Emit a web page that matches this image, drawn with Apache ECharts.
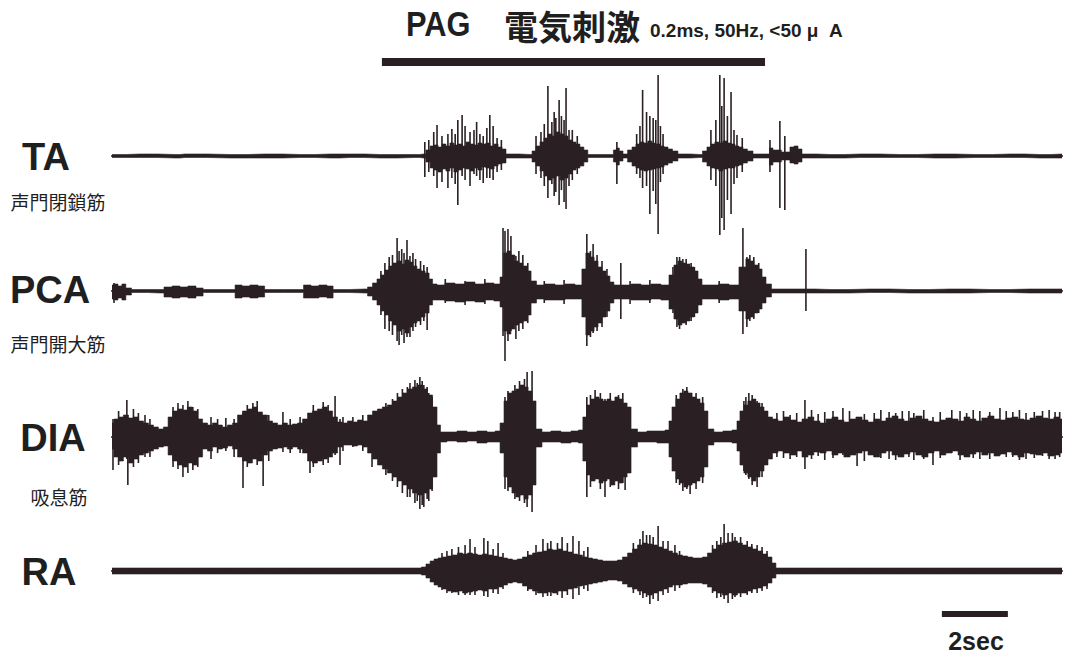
<!DOCTYPE html>
<html>
<head>
<meta charset="utf-8">
<script src="https://cdn.jsdelivr.net/npm/echarts@6/dist/echarts.min.js"></script>
<style>
  html, body { margin: 0; padding: 0; background: #ffffff; }
  #chart { width: 1070px; height: 658px; }
</style>
</head>
<body>
<div id="chart"></div>
<script>
// EMG recordings during PAG stimulation.
// Envelopes: [time (s), upper amplitude, lower amplitude]
// Spikes:    [time (s), peak up, peak down]

const traceNames  = ['TA', 'PCA', 'DIA', 'RA'];
const muscleNames = ['声門閉鎖筋', '声門開大筋', '吸息筋', ''];

const stimWindow = [8.18, 19.79];          // seconds, stimulation on/off
const stimParams = '0.2ms, 50Hz, <50 μ  A';
const scaleBarStart  = 25.15;              // seconds
const scaleBarLength = 2;                  // seconds
const scaleBarLabel  = '2sec';

const taEnvelope = [
  [0.00,1.5,-1.5],[0.85,2,-1.5],[1.91,1.5,-2],[2.21,2,-1.5],[3.58,1.5,-2],[4.64,2,-2],[5.70,1.5,-1.5],[6.61,2,-2],[7.21,2,-1.5],[8.12,1.5,-2],
  [9.18,1.5,-1.5],[9.45,2,-2],
  [9.58,6,-6],[9.70,10,-12],[9.82,11,-14],[9.94,9,-16],[10.06,12,-13],[10.18,10,-15],[10.30,13,-12],[10.42,11,-16],[10.55,12,-14],[10.67,10,-12],
  [10.79,14,-13],[10.91,12,-15],[11.03,11,-12],[11.15,13,-14],[11.27,12,-11],[11.39,13,-12],[11.52,10,-13],[11.64,12,-10],[11.76,9,-8],[11.88,7,-7],
  [12.00,2,-2],[12.67,1.5,-2],
  [12.79,5,-6],[12.91,10,-10],[13.03,14,-15],[13.15,18,-20],[13.27,22,-24],[13.39,20,-22],[13.52,24,-20],[13.64,22,-24],[13.76,20,-22],[13.88,16,-18],
  [14.00,14,-14],[14.12,12,-12],[14.24,9,-10],[14.36,6,-6],[14.48,1.5,-1.5],[15.15,1.5,-1.5],
  [15.24,6,-6],[15.33,8,-9],[15.42,5,-5],[15.55,2,-2],
  [15.70,6,-6],[15.82,9,-10],[15.94,12,-12],[16.06,14,-14],[16.18,13,-15],[16.30,15,-14],[16.42,13,-13],[16.55,12,-12],[16.67,10,-11],[16.79,9,-9],
  [16.91,7,-7],[17.06,5,-5],[17.24,2,-2],[17.82,1.5,-1.5],
  [17.97,5,-6],[18.09,9,-10],[18.21,12,-12],[18.33,14,-13],[18.45,13,-15],[18.58,15,-13],[18.70,13,-12],[18.82,12,-12],[18.94,10,-10],[19.06,9,-9],
  [19.18,7,-7],[19.33,5,-5],[19.52,2,-2],[19.88,2,-2],[19.97,8,-9],[20.09,6,-6],[20.48,4,-4],[20.61,9,-7],[20.73,10,-8],[20.85,7,-6],[20.97,2,-2],
  [21.76,1.5,-2],[22.67,2,-1.5],[23.88,1.5,-1.5],[24.94,2,-2],[26.15,1.5,-1.5],[27.21,2,-1.5],[28.12,1.5,-2],[28.79,2,-2]
];
const taSpikes = [
  [9.48,14,-21],[9.60,16,-16],[9.75,24,-20],[9.85,31,-32],[10.00,20,-26],[10.18,22,-32],[10.30,27,-22],[10.40,22,-28],[10.48,36,-49],[10.61,41,-20],
  [10.70,30,-24],[10.85,24,-30],[10.97,26,-18],[11.05,34,-20],[11.15,22,-24],[11.25,20,-27],[11.36,28,-22],[11.45,41,-22],[11.55,30,-24],[11.67,18,-16],
  [11.80,16,-14],
  [12.85,20,-18],[13.00,24,-22],[13.10,32,-30],[13.21,70,-42],[13.33,34,-28],[13.40,44,-40],[13.45,38,-36],[13.55,56,-49],[13.62,40,-34],[13.70,36,-46],
  [13.76,68,-53],[13.85,26,-30],[13.95,26,-24],[14.10,20,-18],
  [15.30,14,-28],
  [15.90,22,-18],[16.00,30,-22],[16.08,66,-32],[16.20,44,-30],[16.30,40,-58],[16.40,38,-35],[16.48,36,-48],[16.55,81,-78],[16.62,30,-26],[16.70,22,-18],
  [18.15,26,-24],[18.30,36,-30],[18.42,81,-79],[18.48,50,-62],[18.55,78,-74],[18.65,40,-44],[18.76,64,-58],[18.85,26,-28],[18.94,21,-22],[19.10,18,-16],
  [19.94,16,-16],[20.24,35,-52],[20.39,20,-54]
];

const pcaEnvelope = [
  [0.00,6,-8],[0.12,7,-9],[0.24,5,-7],[0.36,7,-9],[0.48,3,-4],[0.70,1.5,-1.5],[1.45,1.5,-2],[1.70,4,-6],[1.94,5,-7],[2.18,4,-6],[2.42,5,-7],
  [2.67,3,-5],[2.85,1.5,-1.5],[3.64,1.5,-1.5],[3.82,6,-7],[4.06,5,-6],[4.30,6,-7],[4.55,5,-6],[4.70,1.5,-1.5],[5.70,1.5,-1.5],[5.91,6,-7],
  [6.15,5,-7],[6.39,6,-6],[6.64,5,-7],[6.76,1.5,-1.5],[7.67,2,-2],
  [7.82,4,-5],[7.97,8,-9],[8.09,12,-14],[8.21,16,-20],[8.33,21,-24],[8.45,25,-30],[8.58,28,-34],[8.70,30,-40],[8.82,27,-38],[8.94,31,-42],[9.06,29,-36],
  [9.18,25,-32],[9.30,22,-30],[9.42,20,-26],[9.55,18,-22],[9.67,12,-14],[9.76,7,-9],
  [9.94,6,-9],[10.24,8,-10],[10.55,7,-11],[10.85,9,-10],[11.15,7,-11],[11.45,8,-9],[11.70,7,-10],
  [11.82,14,-16],[11.91,38,-40],[12.03,40,-43],[12.15,36,-38],[12.27,30,-34],[12.39,28,-32],[12.52,25,-30],[12.64,20,-24],[12.76,10,-12],
  [12.97,6,-8],[13.27,7,-9],[13.58,6,-9],[13.88,7,-8],[14.18,6,-8],
  [14.30,22,-26],[14.42,38,-44],[14.55,34,-40],[14.67,30,-36],[14.79,24,-32],[14.91,20,-26],[15.03,15,-20],[15.15,9,-12],[15.27,6,-8],
  [15.58,6,-8],[15.88,7,-9],[16.18,6,-9],[16.48,7,-8],[16.79,6,-9],
  [16.97,16,-18],[17.09,26,-28],[17.21,30,-34],[17.33,28,-32],[17.45,27,-30],[17.58,24,-26],[17.70,20,-22],[17.82,12,-14],[17.94,6,-8],
  [18.24,6,-8],[18.55,7,-9],[18.85,6,-8],
  [19.15,24,-20],[19.27,32,-28],[19.39,30,-26],[19.52,26,-22],[19.64,22,-18],[19.76,14,-12],[19.88,7,-6],[20.09,2,-2],
  [20.85,2,-2],[21.76,1.5,-2],[22.97,2,-1.5],[24.18,1.5,-2],[25.39,2,-2],[26.61,1.5,-1.5],[27.82,2,-2],[28.79,2,-2]
];
const pcaSpikes = [
  [0.06,8,-12],
  [8.15,20,-24],[8.27,28,-38],[8.40,34,-40],[8.50,36,-44],[8.64,53,-50],[8.70,40,-54],[8.78,42,-44],[8.85,38,-52],[8.94,51,-46],[9.03,35,-46],
  [9.12,38,-40],[9.20,32,-36],[9.35,30,-34],[9.45,26,-30],[9.55,24,-39],
  [10.10,12,-12],[10.70,10,-14],[11.30,12,-13],
  [11.85,63,-45],[11.91,60,-70],[12.00,62,-50],[12.09,55,-40],[12.24,35,-48],[12.33,40,-40],[12.45,36,-38],[12.60,28,-32],
  [13.10,10,-12],[13.70,11,-13],
  [14.39,57,-55],[14.50,40,-46],[14.58,47,-42],[14.70,36,-40],[14.85,30,-36],[15.00,22,-26],[15.42,28,-28],
  [15.70,10,-13],[16.30,11,-12],
  [17.00,24,-22],[17.12,34,-36],[17.20,34,-38],[17.30,32,-32],[17.40,32,-34],[17.55,28,-30],[17.65,24,-26],
  [18.40,10,-12],
  [19.12,63,-43],[19.24,34,-36],[19.33,36,-30],[19.45,34,-28],[19.60,28,-22],[21.03,42,-20]
];

const diaEnvelope = [
  [0.00,14,-12],[0.12,18,-20],[0.27,20,-24],[0.42,22,-20],[0.58,19,-26],[0.73,20,-22],[0.88,16,-18],[1.03,14,-16],[1.18,12,-14],[1.33,10,-12],
  [1.48,8,-10],[1.64,10,-9],[1.76,20,-18],[1.91,26,-24],[2.06,28,-28],[2.21,27,-30],[2.36,30,-26],[2.52,26,-28],[2.67,18,-20],[2.82,14,-12],
  [2.97,12,-14],[3.12,14,-10],[3.27,12,-12],[3.42,10,-11],[3.58,12,-9],[3.73,14,-12],[3.88,22,-20],[4.03,26,-24],[4.18,28,-26],[4.33,30,-22],
  [4.48,25,-24],[4.64,22,-18],[4.79,16,-14],[4.94,14,-12],[5.09,12,-11],[5.24,14,-10],[5.39,12,-12],[5.55,13,-10],[5.70,14,-12],[5.85,18,-16],
  [6.00,24,-24],[6.15,26,-26],[6.30,28,-24],[6.45,30,-22],[6.61,26,-20],[6.76,20,-16],[6.91,15,-10],[7.06,14,-8],[7.21,16,-8],[7.36,15,-9],
  [7.52,17,-8],[7.67,16,-10],[7.82,22,-16],
  [7.97,26,-22],[8.12,28,-28],[8.27,30,-32],[8.42,32,-36],[8.58,36,-40],[8.73,40,-44],[8.88,44,-48],[9.03,48,-52],[9.18,50,-56],[9.33,52,-58],
  [9.48,48,-56],[9.64,42,-52],[9.79,30,-40],[9.91,12,-16],[10.00,5,-5],
  [10.30,5,-4],[10.61,6,-5],[10.91,5,-4],[11.21,6,-6],[11.52,5,-5],[11.70,6,-5],
  [11.82,14,-16],[11.94,36,-40],[12.06,44,-50],[12.18,46,-56],[12.30,48,-60],[12.42,52,-58],[12.55,50,-62],[12.67,46,-58],[12.79,36,-48],[12.91,8,-10],
  [13.15,5,-5],[13.45,6,-5],[13.76,5,-6],[14.06,6,-5],[14.21,7,-6],
  [14.33,20,-24],[14.45,32,-38],[14.58,38,-44],[14.70,40,-42],[14.82,38,-46],[14.94,36,-44],[15.06,38,-42],[15.18,36,-48],[15.30,40,-44],[15.42,38,-46],
  [15.55,34,-40],[15.67,30,-36],[15.79,8,-10],
  [16.06,5,-5],[16.36,6,-5],[16.67,6,-6],[16.85,7,-6],
  [16.91,16,-20],[17.03,30,-34],[17.15,38,-42],[17.27,44,-46],[17.39,46,-50],[17.52,44,-48],[17.64,40,-46],[17.76,38,-44],[17.88,34,-40],[18.00,26,-30],
  [18.12,8,-8],
  [18.36,5,-5],[18.67,6,-5],[18.91,7,-6],
  [18.97,16,-14],[19.09,26,-28],[19.21,32,-36],[19.33,36,-40],[19.45,38,-44],[19.58,34,-40],[19.70,30,-34],[19.82,26,-28],[19.94,20,-22],
  [20.09,18,-16],[20.27,16,-14],[20.45,20,-16],[20.64,17,-18],[20.82,15,-14],[21.00,18,-20],[21.18,20,-18],[21.36,16,-15],[21.55,14,-16],[21.73,18,-14],
  [21.91,20,-18],[22.09,17,-16],[22.27,15,-20],[22.45,18,-18],[22.64,20,-16],[22.82,17,-14],[23.00,15,-18],[23.18,18,-20],[23.36,16,-16],[23.55,19,-14],
  [23.73,21,-18],[23.91,18,-20],[24.09,16,-17],[24.27,19,-15],[24.45,21,-18],[24.64,18,-20],[24.82,16,-16],[25.00,15,-14],[25.18,17,-18],[25.36,19,-16],
  [25.55,18,-14],[25.73,16,-18],[25.91,20,-20],[26.09,18,-17],[26.27,16,-15],[26.45,19,-18],[26.64,21,-16],[26.82,18,-19],[27.00,17,-17],[27.18,19,-15],
  [27.36,20,-18],[27.55,18,-20],[27.73,17,-16],[27.91,19,-17],[28.09,21,-18],[28.27,19,-16],[28.45,18,-19],[28.64,20,-18],[28.79,18,-16]
];
const diaSpikes = [
  [0.03,18,-33],[0.20,26,-28],[0.45,37,-22],[0.48,20,-48],[0.65,28,-30],[0.80,24,-26],[1.00,22,-20],[1.15,18,-20],[1.85,30,-30],[2.00,34,-32],
  [2.15,32,-40],[2.30,36,-36],[2.45,30,-33],[2.60,28,-30],[3.00,20,-22],[3.20,18,-16],[3.45,19,-14],[3.70,18,-20],[3.97,24,-51],[4.10,32,-30],
  [4.27,34,-20],[4.40,36,-28],[4.58,22,-49],[4.75,22,-24],[5.18,25,-15],[5.40,18,-16],[5.70,20,-16],[6.00,20,-36],[6.10,32,-30],[6.30,27,-24],
  [6.40,35,-28],[6.55,32,-26],[6.76,41,-18],[6.91,18,-28],[7.00,20,-14],[7.30,20,-10],[7.60,22,-14],[7.88,20,-30],[8.18,28,-26],
  [8.30,34,-38],[8.50,38,-44],[8.65,44,-50],[8.80,48,-56],[8.95,50,-60],[9.03,54,-60],[9.18,57,-66],[9.25,54,-64],[9.33,60,-72],[9.40,56,-68],
  [9.45,52,-70],[9.55,50,-62],[9.60,44,-64],[9.70,40,-54],
  [11.91,40,-52],[12.00,46,-54],[12.21,52,-62],[12.35,56,-64],[12.50,58,-66],[12.58,65,-70],[12.73,66,-75],
  [14.39,40,-60],[14.50,42,-50],[14.64,47,-40],[14.80,44,-52],[14.94,38,-60],[15.10,44,-50],[15.35,42,-52],[15.48,44,-46],[15.55,30,-53],
  [17.10,42,-46],[17.20,36,-48],[17.30,48,-54],[17.42,50,-52],[17.52,44,-57],[17.70,44,-52],[17.90,40,-46],
  [19.15,36,-34],[19.21,40,-38],[19.30,44,-42],[19.40,42,-48],[19.55,36,-50],[19.70,34,-40],
  [20.15,24,-20],[20.35,26,-21],[20.55,22,-22],[20.75,24,-20],[21.00,37,-32],[21.20,27,-22],[21.40,23,-19],[21.60,25,-23],[21.85,26,-21],[22.15,29,-18],
  [22.35,26,-20],[22.58,20,-29],[22.80,23,-24],[23.10,24,-20],[23.30,27,-21],[23.55,25,-22],[23.75,24,-23],[23.95,26,-20],[24.15,26,-20],[24.30,24,-23],
  [24.60,27,-22],[24.88,20,-28],[25.10,25,-21],[25.45,27,-16],[25.70,26,-23],[25.90,24,-20],[26.10,27,-21],[26.30,26,-22],[26.60,25,-22],[26.91,29,-18],
  [27.10,26,-20],[27.30,25,-20],[27.50,27,-23],[27.70,24,-22],[27.95,25,-21],[28.20,26,-19],[28.40,27,-22],[28.58,25,-22],[28.72,25,-20]
];

const raEnvelope = [
  [0.00,3,-3],[1.00,3,-3],[2.00,3,-3],[3.00,3,-3],[4.00,3,-3],[5.00,3,-3],[6.00,3,-3],[7.00,3,-3],[8.00,3,-3],[9.00,3,-3],[9.30,3,-3],
  [9.45,4,-4],[9.58,7,-7],[9.70,10,-11],[9.82,12,-14],[9.94,13,-16],[10.09,14,-18],[10.24,15,-20],[10.39,16,-21],[10.55,18,-20],[10.70,17,-22],
  [10.85,18,-21],[11.00,17,-20],[11.15,16,-19],[11.30,17,-20],[11.45,16,-18],[11.61,15,-18],[11.76,14,-16],[11.91,13,-14],[12.06,12,-12],[12.21,11,-11],
  [12.36,12,-12],[12.52,14,-15],[12.67,16,-18],[12.82,18,-20],[12.97,19,-22],[13.12,20,-22],[13.27,22,-21],[13.42,21,-22],[13.58,22,-20],[13.73,20,-20],
  [13.88,19,-18],[14.03,17,-17],[14.18,16,-15],[14.33,14,-14],[14.48,13,-13],[14.64,12,-12],[14.79,11,-11],[14.94,10,-10],[15.09,10,-9],[15.24,10,-9],
  [15.39,11,-10],[15.55,14,-13],[15.70,18,-16],[15.85,22,-18],[16.00,26,-20],[16.15,28,-22],[16.30,27,-24],[16.45,26,-22],[16.61,24,-20],[16.76,22,-18],
  [16.91,20,-16],[17.06,18,-14],[17.21,16,-14],[17.36,15,-13],[17.52,14,-12],[17.67,13,-12],[17.82,13,-12],[17.97,14,-13],
  [18.12,18,-16],[18.27,22,-20],[18.42,26,-22],[18.58,28,-24],[18.73,29,-22],[18.88,30,-24],[19.03,28,-22],[19.18,26,-22],[19.33,24,-20],[19.48,22,-18],
  [19.64,20,-17],[19.79,17,-15],[19.94,14,-12],[20.06,8,-7],[20.18,3,-3],
  [21.00,3,-3],[22.00,3,-3],[23.00,3,-3],[24.00,3,-3],[25.00,3,-3],[26.00,3,-3],[27.00,3,-3],[28.00,3,-3],[28.79,3,-3]
];
const raSpikes = [
  [10.00,18,-19],[10.15,20,-22],[10.30,22,-22],[10.50,24,-24],[10.70,26,-24],[10.85,32,-24],[11.00,24,-24],[11.27,33,-25],[11.39,30,-26],[11.55,22,-22],
  [11.70,28,-23],[11.85,18,-18],
  [12.60,20,-20],[12.85,26,-24],[13.06,32,-26],[13.20,28,-25],[13.30,30,-25],[13.50,28,-24],[13.64,34,-27],[13.80,28,-24],[13.97,35,-28],[14.15,30,-24],
  [14.30,20,-18],[14.42,24,-20],
  [15.80,28,-22],[16.00,32,-24],[16.09,40,-27],[16.20,36,-26],[16.30,36,-33],[16.40,34,-28],[16.55,45,-30],[16.70,30,-24],[16.85,30,-22],[17.06,26,-20],
  [17.20,20,-17],
  [18.20,26,-22],[18.33,30,-27],[18.45,34,-26],[18.55,47,-28],[18.67,38,-32],[18.80,38,-28],[18.88,34,-26],[19.05,34,-26],[19.25,30,-24],[19.39,27,-22],
  [19.55,26,-22],[19.70,24,-20],[19.85,20,-18]
];

const envelopes = [taEnvelope, pcaEnvelope, diaEnvelope, raEnvelope];
const spikes    = [taSpikes, pcaSpikes, diaSpikes, raSpikes];

// layout
const INK = '#2a2023';
const TEXT = '#1f1f1f';
const LATIN = '"Liberation Sans", Arial, Helvetica, sans-serif';
const CJK = '"Noto Sans CJK JP", "Noto Sans CJK SC", sans-serif';
const baselines = [156, 291, 437, 571];
const HALF = 100;                 // px above/below each baseline
const plotLeft = 112, plotWidth = 950;
const timeSpan = 28.79;

const chart = echarts.init(document.getElementById('chart'), null, { renderer: 'svg' });

const grids = baselines.map(b => ({
  left: plotLeft, width: plotWidth, top: b - HALF, height: 2 * HALF,
  outerBoundsMode: 'none', containLabel: false
}));
// the x axis line doubles as the zero line of each trace
const xAxes = baselines.map((_, i) => ({
  type: 'value', gridIndex: i, min: 0, max: timeSpan,
  axisLine: { show: true, onZero: true, lineStyle: { color: INK, width: 2 } },
  axisTick: { show: false }, axisLabel: { show: false }, splitLine: { show: false }
}));
const yAxes = baselines.map((_, i) => ({ type: 'value', gridIndex: i, min: -HALF, max: HALF, show: false }));

function spikeItem(params, api) {
  const t = api.value(0);
  const top = api.coord([t, api.value(1)]);
  const bot = api.coord([t, api.value(2)]);
  return {
    type: 'line',
    shape: { x1: top[0], y1: top[1], x2: bot[0], y2: bot[1] },
    style: { stroke: INK, lineWidth: 1.6 }
  };
}

function barItem(height) {
  return function (params, api) {
    const a = api.coord([api.value(0), api.value(2)]);
    const b = api.coord([api.value(1), api.value(2)]);
    return {
      type: 'rect',
      shape: { x: a[0], y: a[1] - height / 2, width: b[0] - a[0], height: height },
      style: { fill: INK }
    };
  };
}

const series = [];
envelopes.forEach((env, i) => {
  const common = { xAxisIndex: i, yAxisIndex: i, silent: true, animation: false };
  [1, 2].forEach(k => {
    series.push(Object.assign({}, common, {
      type: 'line', step: 'middle', symbol: 'none',
      data: env.map(d => [d[0], d[k]]),
      lineStyle: { color: INK, width: 0.6 },
      areaStyle: { color: INK, opacity: 1, origin: 0 }
    }));
  });
  series.push(Object.assign({}, common, {
    type: 'custom', renderItem: spikeItem,
    encode: { x: 0, y: [1, 2] },
    data: spikes[i]
  }));
});

// stimulation period bar above the TA trace
series.push({
  type: 'custom', xAxisIndex: 0, yAxisIndex: 0, silent: true, animation: false,
  renderItem: barItem(8), encode: { x: [0, 1], y: 2 },
  data: [[stimWindow[0], stimWindow[1], 94]]
});
// time scale bar under the RA trace
series.push({
  type: 'custom', xAxisIndex: 3, yAxisIndex: 3, silent: true, animation: false,
  renderItem: barItem(6), encode: { x: [0, 1], y: 2 },
  data: [[scaleBarStart, scaleBarStart + scaleBarLength, -43]]
});

function label(text, x, y, font, align, scaleX) {
  return {
    type: 'text', x: x, y: y, silent: true, scaleX: scaleX || 1,
    style: { text: text, font: font, fill: TEXT, textAlign: align || 'center', textVerticalAlign: 'middle' }
  };
}

const labelX = [46, 50, 53, 49];
const labelY = [157, 290, 438, 572];
const subY = [201, 343, 496];
const graphics = [];
traceNames.forEach((n, i) => {
  graphics.push(label(n, labelX[i], labelY[i], 'bold 38px ' + LATIN));
  if (muscleNames[i]) graphics.push(label(muscleNames[i], i === 2 ? 59 : 58, subY[i], '19px ' + CJK));
});
graphics.push(label('PAG', 406, 24, 'bold 35px ' + LATIN, 'left', 0.88));
graphics.push(label('電気刺激', 504, 25, 'bold 34px ' + CJK, 'left'));
graphics.push(label(stimParams, 650, 30, 'bold 19px ' + LATIN, 'left'));
graphics.push(label(scaleBarLabel, 976, 641, 'bold 25px ' + LATIN));

chart.setOption({
  backgroundColor: '#ffffff',
  animation: false,
  grid: grids,
  xAxis: xAxes,
  yAxis: yAxes,
  series: series,
  graphic: graphics
});
</script>
</body>
</html>
